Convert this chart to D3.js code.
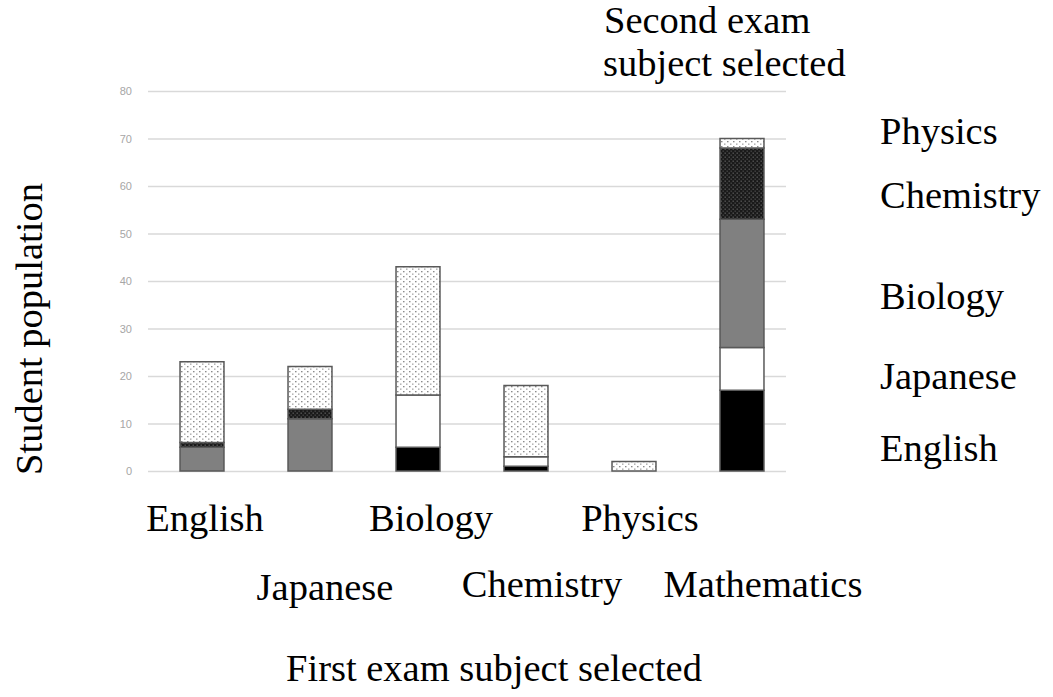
<!DOCTYPE html>
<meta charset="utf-8">
<style>
body { margin: 0; background: #fff; }
text.big { font-family: "Liberation Serif", "Times New Roman", serif; font-size: 38.5px; fill: #000; }
.tick text { font-family: "Liberation Sans", Arial, sans-serif; font-size: 11px; fill: #a6a6a6; }
</style>
<svg width="1053" height="697"></svg>
<script src="https://d3js.org/d3.v7.min.js"></script>
<script>

// first exam subject (x categories)
var firstSubjects = ["English", "Japanese", "Biology", "Chemistry", "Physics", "Mathematics"];
// second exam subject (stack series, bottom to top)
var secondSubjects = ["English", "Japanese", "Biology", "Chemistry", "Physics"];

var englishVals   = [0, 0, 5, 1, 0, 17];
var japaneseVals  = [0, 0, 11, 2, 0, 9];
var biologyVals   = [5, 11, 0, 0, 0, 27];
var chemistryVals = [1, 2, 0, 0, 0, 15];
var physicsVals   = [17, 9, 27, 15, 2, 2];

var yTicks = [0, 10, 20, 30, 40, 50, 60, 70, 80];

var svg = d3.select("svg");

// table for d3.stack
var rows = firstSubjects.map(function(s, i) {
  return {
    first: s,
    English: englishVals[i],
    Japanese: japaneseVals[i],
    Biology: biologyVals[i],
    Chemistry: chemistryVals[i],
    Physics: physicsVals[i]
  };
});
var series = d3.stack().keys(secondSubjects)(rows);

var x = d3.scaleBand().domain(firstSubjects).range([148, 796])
    .paddingInner(0.593).paddingOuter(0.2965);
var y = d3.scaleLinear().domain([0, 80]).range([471, 91]);

// patterns
var defs = svg.append("defs");
var light = defs.append("pattern").attr("id", "lightDots")
    .attr("patternUnits", "userSpaceOnUse").attr("width", 6).attr("height", 5);
light.append("rect").attr("width", 6).attr("height", 5).attr("fill", "#fff");
light.append("rect").attr("x", 1).attr("y", 1).attr("width", 1.5).attr("height", 1.3).attr("fill", "#8a8a8a");
light.append("rect").attr("x", 4).attr("y", 3.5).attr("width", 1.5).attr("height", 1.3).attr("fill", "#a5a5a5");

var dark = defs.append("pattern").attr("id", "darkDots")
    .attr("patternUnits", "userSpaceOnUse").attr("width", 4).attr("height", 4);
dark.append("rect").attr("width", 4).attr("height", 4).attr("fill", "#1a1a1a");
dark.append("rect").attr("x", 0.5).attr("y", 0.5).attr("width", 1.4).attr("height", 1.4).attr("fill", "#555");
dark.append("rect").attr("x", 2.5).attr("y", 2.5).attr("width", 1.4).attr("height", 1.4).attr("fill", "#444");

var fills = {
  English: "#000",
  Japanese: "#fff",
  Biology: "#808080",
  Chemistry: "url(#darkDots)",
  Physics: "url(#lightDots)"
};

// y axis with gridlines
var yAxis = svg.append("g")
    .attr("transform", "translate(148,0)")
    .call(d3.axisLeft(y).tickValues(yTicks).tickSize(-638).tickPadding(16));
yAxis.select(".domain").remove();
yAxis.selectAll(".tick line").attr("stroke", "#d9d9d9").attr("stroke-width", 1.5);

// stacked bars
svg.append("g").selectAll("g")
  .data(series)
  .enter().append("g")
    .attr("fill", function(d) { return fills[d.key]; })
  .selectAll("rect")
  .data(function(d) { return d.filter(function(p) { return p[1] - p[0] > 0; }); })
  .enter().append("rect")
    .attr("x", function(d) { return x(d.data.first); })
    .attr("width", x.bandwidth())
    .attr("y", function(d) { return y(d[1]); })
    .attr("height", function(d) { return y(d[0]) - y(d[1]); })
    .attr("stroke", "#595959")
    .attr("stroke-width", 1.5);

// category labels, staggered in two rows
var labelRow = [531, 600, 531, 597, 531, 597];
var labelShift = [3, 15, 13, 16, 6, 21];
svg.append("g").selectAll("text")
  .data(firstSubjects)
  .enter().append("text")
    .attr("class", "big")
    .attr("text-anchor", "middle")
    .attr("x", function(d, i) { return x(d) + x.bandwidth() / 2 + labelShift[i]; })
    .attr("y", function(d, i) { return labelRow[i]; })
    .text(function(d) { return d; });

// right-hand series labels, next to the tallest stack
var legendY = { English: 461, Japanese: 389, Biology: 309, Chemistry: 208, Physics: 144 };
svg.append("g").selectAll("text")
  .data(series)
  .enter().append("text")
    .attr("class", "big")
    .attr("x", 880)
    .attr("y", function(d) { return legendY[d.key]; })
    .text(function(d) { return d.key; });

svg.append("text").attr("class", "big").attr("x", 604).attr("y", 33).text("Second exam");
svg.append("text").attr("class", "big").attr("x", 603).attr("y", 76).text("subject selected");

svg.append("text").attr("class", "big")
    .attr("text-anchor", "middle")
    .attr("transform", "translate(42,329) rotate(-90)")
    .text("Student population");

svg.append("text").attr("class", "big")
    .attr("text-anchor", "middle")
    .attr("x", 494).attr("y", 681)
    .text("First exam subject selected");

</script>
